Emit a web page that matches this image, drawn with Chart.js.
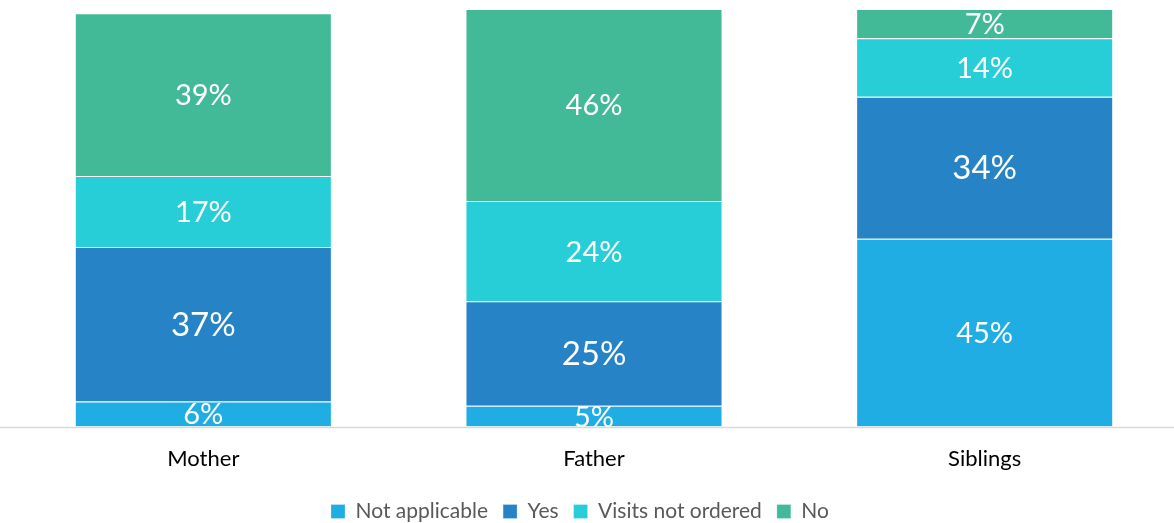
<!DOCTYPE html>
<html>
<head>
<meta charset="utf-8">
<script src="https://cdn.jsdelivr.net/npm/chart.js@4.4.1/dist/chart.umd.min.js"></script>
<style>
  html, body { margin: 0; padding: 0; background: #fff; overflow: hidden; }
  #wrap { width: 1180px; height: 523px; position: relative; }
</style>
</head>
<body>
<div id="wrap"><canvas id="chart"></canvas></div>
<script>
var categories = ["Mother", "Father", "Siblings"];
var notApplicable = [6, 5, 45];
var yes = [37, 25, 34];
var visitsNotOrdered = [17, 24, 14];
var no = [39, 46, 7];

var seriesNames = ["Not applicable", "Yes", "Visits not ordered", "No"];
var seriesColors = ["#1fade4", "#2683c6", "#27ced7", "#43ba97"];
var labelSizes = [29, 33, 29, 29];

const FONT = "Lato, 'Open Sans', sans-serif";

const segmentLabels = {
  id: "segmentLabels",
  afterDatasetsDraw(chart) {
    const ctx = chart.ctx;
    ctx.save();
    ctx.fillStyle = "#ffffff";
    ctx.textAlign = "center";
    ctx.textBaseline = "middle";
    chart.data.datasets.forEach(function (ds, i) {
      const meta = chart.getDatasetMeta(i);
      ctx.font = labelSizes[i] + "px " + FONT;
      meta.data.forEach(function (bar, j) {
        const mid = (bar.y + bar.base) / 2;
        ctx.fillText(ds.data[j] + "%", bar.x, mid + 1);
      });
    });
    ctx.restore();
  }
};

// grey axis line running the full width, and legend nudged a bit left
const baseLine = {
  id: "baseLine",
  afterLayout(chart) {
    if (chart.legend) {
      chart.legend.left -= 14;
      chart.legend.right -= 14;
    }
  },
  beforeDatasetsDraw(chart) {
    const ctx = chart.ctx;
    const y = Math.round(chart.scales.y.getPixelForValue(0)) + 0.5;
    ctx.save();
    ctx.strokeStyle = "#d9d9d9";
    ctx.lineWidth = 1.5;
    ctx.beginPath();
    ctx.moveTo(0, y);
    ctx.lineTo(chart.width, y);
    ctx.stroke();
    ctx.restore();
  }
};

const allSeries = [notApplicable, yes, visitsNotOrdered, no];

new Chart(document.getElementById("chart"), {
  type: "bar",
  data: {
    labels: categories,
    datasets: allSeries.map(function (vals, i) {
      return {
        label: seriesNames[i],
        data: vals,
        backgroundColor: seriesColors[i],
        borderColor: "rgba(255,255,255,0.25)",
        borderWidth: 1,
        barPercentage: 0.658,
        categoryPercentage: 1
      };
    })
  },
  options: {
    responsive: true,
    maintainAspectRatio: false,
    animation: false,
    layout: { padding: { top: 9, left: 8, right: 0, bottom: -9 } },
    scales: {
      x: {
        stacked: true,
        grid: { display: false, drawTicks: false },
        border: { display: false },
        ticks: { color: "#000", font: { family: FONT, size: 22 }, padding: 19 },
        afterFit: function (scale) { scale.height -= 5; }
      },
      y: {
        stacked: true,
        display: false,
        min: 0,
        max: 100
      }
    },
    plugins: {
      legend: {
        position: "bottom",
        labels: {
          color: "#595959",
          font: { family: FONT, size: 21 },
          boxWidth: 14,
          boxHeight: 14,
          padding: 15
        }
      },
      tooltip: { enabled: false }
    }
  },
  plugins: [segmentLabels, baseLine]
});
</script>
</body>
</html>
